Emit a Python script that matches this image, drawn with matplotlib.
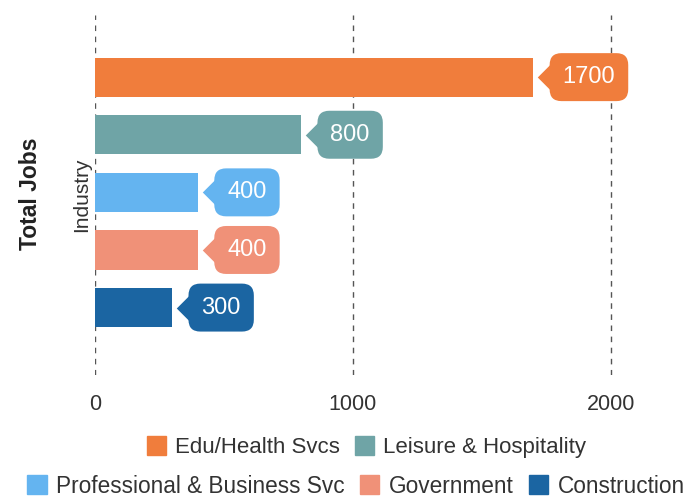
import matplotlib.pyplot as plt
import matplotlib.transforms as mtransforms
from matplotlib.patches import Patch

plt.rcParams['font.family'] = ['Liberation Sans', 'DejaVu Sans']

industries = ["Edu/Health Svcs", "Leisure & Hospitality", "Professional & Business Svc",
              "Government", "Construction"]
jobs = [1700, 800, 400, 400, 300]
colors = ["#f07d3c", "#6fa4a6", "#64b4f0", "#f09178", "#1b65a2"]
xticks = [0, 1000, 2000]

fig = plt.figure(figsize=(6.98, 4.97), dpi=100)
ax = fig.add_axes([0.136, 0.2455, 0.85, 0.7245])

pos = list(range(len(jobs)))[::-1]
ax.barh(pos, jobs, height=0.68, color=colors, zorder=2)

# badge pointer: wide left-pointing triangle, tucked under the label box
pointer = [(-0.5, 0), (0.5, 1), (0.5, -1)]
ptr_trans = mtransforms.offset_copy(ax.transData, fig=fig, x=10, y=0, units="points")
for p, v, c in zip(pos, jobs, colors):
    ax.plot([v], [p], marker=pointer, ms=28, color=c, mec="none",
            transform=ptr_trans, zorder=3, clip_on=False)
    ax.annotate(str(v), xy=(v, p), xytext=(21, 0), textcoords="offset points",
                ha="left", va="center", fontsize=17, color="white", zorder=4,
                bbox=dict(boxstyle="round,pad=0.55,rounding_size=0.5", fc=c, ec="none"))

ax.set_xlim(0, 2300)
ax.set_ylim(-1.17, 5.08)
ax.set_xticks(xticks)
ax.set_xticklabels([str(t) for t in xticks], fontsize=15.5, color="#333333")
ax.set_yticks([])
ax.tick_params(axis="x", length=0, pad=14)
for s in ax.spines.values():
    s.set_visible(False)
for t in xticks:
    ax.axvline(t, color="#555555", lw=1, ls=(0, (4, 4)), zorder=1)

ax.set_ylabel("Industry", fontsize=15, color="#333333", labelpad=3)
fig.text(0.043, 0.61, "Total Jobs", rotation=90, fontsize=16.5, fontweight="bold",
         ha="center", va="center", color="#222222")

handles = [Patch(color=c, label=l) for c, l in zip(colors, industries)]
fig.legend(handles=handles[:2], loc="center", bbox_to_anchor=(0.525, 0.1), ncol=2,
           frameon=False, fontsize=16, handlelength=0.85, handleheight=0.9,
           handletextpad=0.4, columnspacing=0.7, labelcolor="#333333")
fig.legend(handles=handles[2:], loc="center", bbox_to_anchor=(0.51, 0.022), ncol=3,
           frameon=False, fontsize=16.3, handlelength=0.85, handleheight=0.9,
           handletextpad=0.4, columnspacing=0.7, labelcolor="#333333")

fig.savefig("out.png", dpi=100)
